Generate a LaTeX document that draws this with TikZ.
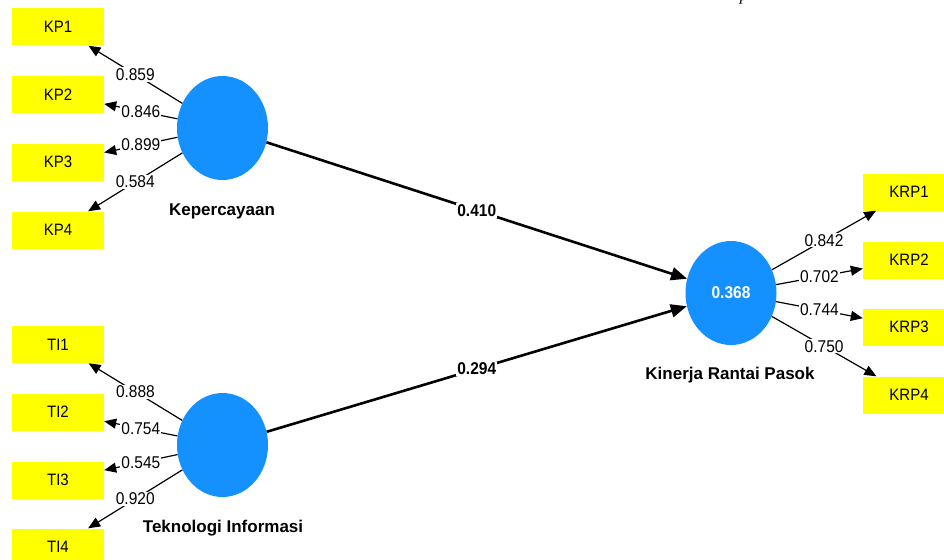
\documentclass[tikz,border=0pt]{standalone}
\usepackage{fontspec}
\setmainfont{Liberation Sans}
\newfontfamily\serifit{Liberation Serif}
\usetikzlibrary{shapes.geometric,arrows.meta}
\definecolor{lvblue}{RGB}{20,144,255}
\definecolor{mvyellow}{RGB}{255,255,0}
\newcommand{\vs}[1]{\scalebox{1}[1.1]{#1}}
\begin{document}
\begin{tikzpicture}[x=1pt,y=-1pt,
 mv/.style={rectangle,fill=mvyellow,minimum width=92pt,minimum height=37pt,inner sep=0pt,font=\fontsize{15}{17}\selectfont},
 lv/.style={ellipse,fill=lvblue,minimum width=91pt,minimum height=104pt,inner sep=0pt},
 lvlabel/.style={font=\bfseries\fontsize{17}{19}\selectfont},
 load/.style={line width=1.2pt,-{Triangle[length=12pt,width=10pt]}},
 struct/.style={line width=2.6pt,-{Triangle[length=16pt,width=13pt]}},
 wt/.style={fill=white,inner sep=1pt,font=\fontsize{15.5}{18}\selectfont},
 pc/.style={fill=white,inner sep=1pt,font=\bfseries\fontsize{15.5}{17}\selectfont}]
\useasboundingbox (0,0) rectangle (944,559);
\clip (0,0) rectangle (944,559);
% stray glyph at top
\node[anchor=base,inner sep=0pt,font=\serifit\itshape\fontsize{17}{19}\selectfont] (stray) at (744,1) {p};
% latent variables
\node[lv] (KP) at (222.5,128) {};
\node[lv] (TI) at (222.5,445) {};
\node[lv,text=white,font=\bfseries\fontsize{15.5}{17}\selectfont] (KRP) at (731,293) {\vs{0.368}};
\node[lvlabel] (KPl) at (222,211) {Kepercayaan};
\node[lvlabel] (TIl) at (223,528) {Teknologi Informasi};
\node[lvlabel] (KRPl) at (730,375) {Kinerja Rantai Pasok};
% indicators
\node[mv] (KP1) at (58,27) {\vs{KP1}};
\node[mv] (KP2) at (58,94.5) {\vs{KP2}};
\node[mv] (KP3) at (58,162) {\vs{KP3}};
\node[mv] (KP4) at (58,230) {\vs{KP4}};
\node[mv] (TI1) at (58,344.5) {\vs{TI1}};
\node[mv] (TI2) at (58,412) {\vs{TI2}};
\node[mv] (TI3) at (58,480) {\vs{TI3}};
\node[mv] (TI4) at (58,547) {\vs{TI4}};
\node[mv] (KRP1) at (909,192) {\vs{KRP1}};
\node[mv] (KRP2) at (909,260) {\vs{KRP2}};
\node[mv] (KRP3) at (909,327) {\vs{KRP3}};
\node[mv] (KRP4) at (909,395) {\vs{KRP4}};
% loadings
\draw[load] (KP) -- node[wt] {\vs{0.859}} (KP1);
\draw[load] (KP) -- node[wt] {\vs{0.846}} (KP2);
\draw[load] (KP) -- node[wt] {\vs{0.899}} (KP3);
\draw[load] (KP) -- node[wt] {\vs{0.584}} (KP4);
\draw[load] (TI) -- node[wt] {\vs{0.888}} (TI1);
\draw[load] (TI) -- node[wt] {\vs{0.754}} (TI2);
\draw[load] (TI) -- node[wt] {\vs{0.545}} (TI3);
\draw[load] (TI) -- node[wt] {\vs{0.920}} (TI4);
\draw[load] (KRP) -- node[wt] {\vs{0.842}} (KRP1);
\draw[load] (KRP) -- node[wt] {\vs{0.702}} (KRP2);
\draw[load] (KRP) -- node[wt] {\vs{0.744}} (KRP3);
\draw[load] (KRP) -- node[wt] {\vs{0.750}} (KRP4);
% structural paths
\draw[struct] (KP) -- node[pc] {\vs{0.410}} (KRP);
\draw[struct] (TI) -- node[pc] {\vs{0.294}} (KRP);
\end{tikzpicture}
\end{document}
